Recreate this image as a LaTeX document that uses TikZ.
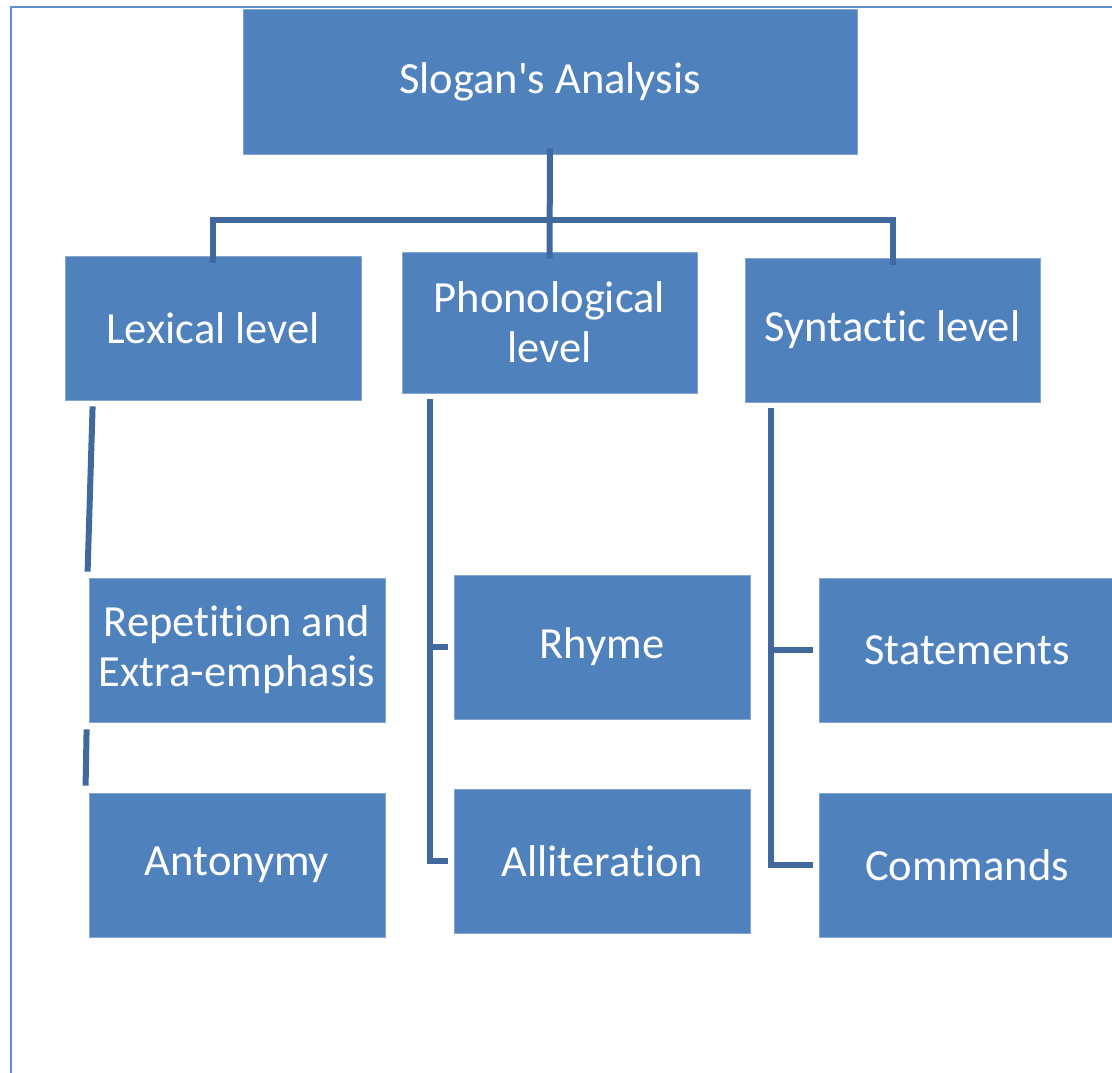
\documentclass[tikz,border=0pt]{standalone}
\usepackage{fontspec}
\setmainfont[Ligatures={TeXOff,CommonOff},RawFeature={-liga;-clig;-calt}]{Carlito}
\usetikzlibrary{calc}
\definecolor{boxblue}{RGB}{79,129,189}
\definecolor{linkblue}{RGB}{65,105,158}
\definecolor{frameblue}{RGB}{95,141,205}
\tikzset{
  box/.style={rectangle, fill=boxblue, draw=boxblue!70!white, line width=0.8pt, text=white,
    minimum width=296pt, minimum height=144pt, align=center, inner sep=0pt,
    font=\fontsize{44.5}{50}\selectfont},
  conn/.style={draw=linkblue, line width=6pt},
}
\begin{document}
\begin{tikzpicture}[x=1pt,y=-1pt]
\useasboundingbox (0,0) rectangle (1112,1072);
\draw[frameblue, line width=2.5pt] (11,1075) -- (11,7) -- (1115,7);

\node[box, minimum width=614pt, minimum height=145pt] (top) at (550,81.5) {Slogan's Analysis};
\node[box] (lex) at (213,328) {Lexical level};
\node[box, minimum width=295pt, minimum height=141pt] (pho) at (549.5,322.5) {Phonological\\level};
\node[box, minimum width=295pt] (syn) at (892.5,330) {Syntac\kern0pt tic level};
\node[box] (rep) at (237,650) {Repeti\kern0pt tion and\\Extra-emphasis};
\node[box] (ant) at (237,865) {Antonymy};
\node[box] (rhy) at (602,647) {Rhyme};
\node[box] (all) at (602,861) {Allitera\kern0pt tion};
\node[box] (sta) at (967,650) {Statements};
\node[box] (com) at (967,865) {Commands};

% top tree
\coordinate (hb) at (550,220);
\draw[conn] ([yshift=6]top.south) -- ([yshift=-7]pho.north);
\draw[conn] ([yshift=-7]lex.north) |- (hb) -| ([yshift=-7]syn.north);

% lexical branch
\draw[conn] ([shift={(28,6)}]lex.south west) -- ([shift={(-1,-6)}]rep.north west);
\draw[conn] ([shift={(-2,7)}]rep.south west) -- ([shift={(-3,-7)}]ant.north west);

% phonological branch
\coordinate (pv) at ([shift={(28,6)}]pho.south west);
\draw[conn] (pv) |- ([xshift=-6]all.west);
\draw[conn] ([xshift=-6]rhy.west) -- (rhy.west -| pv);

% syntactic branch
\coordinate (sv) at ([shift={(26,6)}]syn.south west);
\draw[conn] (sv) |- ([xshift=-6]com.west);
\draw[conn] ([xshift=-6]sta.west) -- (sta.west -| sv);
\end{tikzpicture}
\end{document}
